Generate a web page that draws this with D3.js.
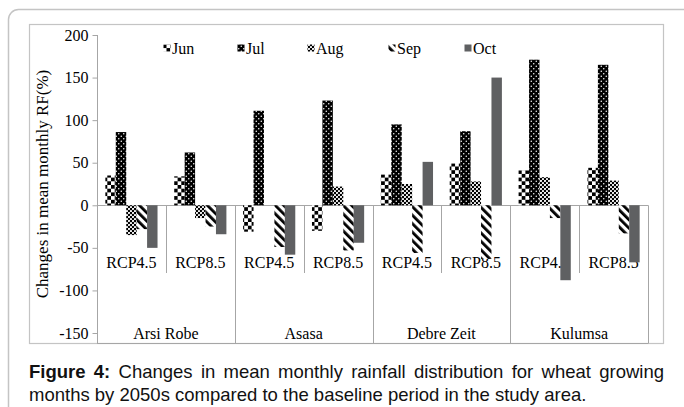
<!DOCTYPE html>
<html><head><meta charset="utf-8">
<script src="https://cdn.jsdelivr.net/npm/d3@7"></script>
<style>html,body{margin:0;padding:0;background:#fff;}svg{display:block;}</style>
</head><body>
<svg id="c" width="684" height="407"></svg>
<script>
const stations = ["Arsi Robe","Asasa","Debre Zeit","Kulumsa"];
const scenarios = ["RCP4.5","RCP8.5"];
const months = ["Jun","Jul","Aug","Sep","Oct"];
// values in order: Arsi Robe 4.5, 8.5, Asasa 4.5, 8.5, Debre Zeit 4.5, 8.5, Kulumsa 4.5, 8.5
const junVals = [35, 34, -31, -30, 36, 49, 41, 44];
const julVals = [86, 62, 111, 123, 95, 87, 171, 165];
const augVals = [-35, -15, 0, 22, 25, 28, 33, 29];
const sepVals = [-28, -25, -49, -53, -56, -63, -15, -33];
const octVals = [-50, -34, -58, -44, 51, 150, -88, -67];
const yTicks = [-150,-100,-50,0,50,100,150,200];
const captionBold = "Figure 4:";
const captionLine1 = " Changes in mean monthly rainfall distribution for wheat growing";
const captionLine2 = "months by 2050s compared to the baseline period in the study area.";

const series = {Jun: junVals, Jul: julVals, Aug: augVals, Sep: sepVals, Oct: octVals};
const subgroups = [];
stations.forEach(s => scenarios.forEach(r => subgroups.push(s + "|" + r)));

const svg = d3.select("#c");
const defs = svg.append("defs");
// Patterns
let p = defs.append("pattern").attr("id","pJun").attr("patternUnits","userSpaceOnUse").attr("width",7.4).attr("height",7.4);
p.append("rect").attr("width",7.4).attr("height",7.4).attr("fill","#fff");
p.append("rect").attr("width",3.7).attr("height",3.7).attr("fill","#000");
p.append("rect").attr("x",3.7).attr("y",3.7).attr("width",3.7).attr("height",3.7).attr("fill","#000");
p = defs.append("pattern").attr("id","pJul").attr("patternUnits","userSpaceOnUse").attr("width",5).attr("height",5);
p.append("rect").attr("width",5).attr("height",5).attr("fill","#000");
p.append("circle").attr("cx",1.25).attr("cy",1.25).attr("r",0.75).attr("fill","#fff");
p.append("circle").attr("cx",3.75).attr("cy",3.75).attr("r",0.75).attr("fill","#fff");
p = defs.append("pattern").attr("id","pAug").attr("patternUnits","userSpaceOnUse").attr("width",4).attr("height",4);
p.append("rect").attr("width",4).attr("height",4).attr("fill","#000");
p.append("circle").attr("cx",1).attr("cy",1).attr("r",1.1).attr("fill","#fff");
p.append("circle").attr("cx",3).attr("cy",3).attr("r",1.1).attr("fill","#fff");
p = defs.append("pattern").attr("id","pSep").attr("patternUnits","userSpaceOnUse").attr("width",6).attr("height",10).attr("patternTransform","rotate(-45)");
p.append("rect").attr("width",6).attr("height",10).attr("fill","#fff");
p.append("rect").attr("width",2.8).attr("height",10).attr("fill","#000");
const fills = {Jun:"url(#pJun)", Jul:"url(#pJul)", Aug:"url(#pAug)", Sep:"url(#pSep)", Oct:"#5f6062"};

// outer frames
svg.append("rect").attr("x",8.5).attr("y",9.5).attr("width",700).attr("height",430).attr("rx",10)
  .attr("fill","none").attr("stroke","#c4c4c4").attr("stroke-width",1.5);
svg.append("rect").attr("x",29.5).attr("y",24.5).attr("width",634).attr("height",319)
  .attr("fill","none").attr("stroke","#c4c4c4").attr("stroke-width",1.2);

const x0 = 97, x1 = 648, yBottom = 343.5;
const y = d3.scaleLinear().domain([-150,200]).range([333,35]);
const xs = d3.scaleBand().domain(subgroups).range([x0,x1]).padding(0);
const xg = d3.scaleBand().domain(stations).range([x0,x1]).padding(0);
const xm = d3.scaleBand().domain(months).range([0, xs.bandwidth()]).paddingInner(0).paddingOuter(0.8);

const axisCol = "#a6a6a6";
const serif = "'Liberation Serif','Times New Roman',serif";

// y axis
const yAxis = d3.axisLeft(y).tickValues(yTicks).tickSize(5).tickPadding(4).tickFormat(d => String(d));
const ga = svg.append("g").attr("transform",`translate(${x0+0.5},0)`).call(yAxis);
ga.select(".domain").remove();
ga.selectAll(".tick line").attr("stroke",axisCol);
ga.selectAll(".tick text").attr("font-family",serif).attr("font-size",16).attr("fill","#000");
svg.append("line").attr("x1",x0+0.5).attr("x2",x0+0.5).attr("y1",y(200)).attr("y2",yBottom).attr("stroke",axisCol);

// category lines
svg.append("line").attr("x1",x0).attr("x2",x1).attr("y1",Math.round(y(0))+0.5).attr("y2",Math.round(y(0))+0.5).attr("stroke",axisCol);
svg.append("line").attr("x1",x0).attr("x2",x1).attr("y1",yBottom).attr("y2",yBottom).attr("stroke",axisCol);
stations.forEach((s,i) => {
  const xe = Math.round(xg(s) + xg.bandwidth()) + 0.5;
  svg.append("line").attr("x1",xe).attr("x2",xe).attr("y1",y(0)).attr("y2",yBottom).attr("stroke",axisCol);
  const xm2 = Math.round(xs(s+"|RCP8.5")) + 0.5;
  svg.append("line").attr("x1",xm2).attr("x2",xm2).attr("y1",y(0)).attr("y2",273).attr("stroke",axisCol);
  svg.append("text").attr("x",xg(s)+xg.bandwidth()/2).attr("y",339).attr("text-anchor","middle")
    .attr("font-family",serif).attr("font-size",16).text(s);
});
subgroups.forEach(sg => {
  svg.append("text").attr("x",xs(sg)+xs.bandwidth()/2).attr("y",268).attr("text-anchor","middle")
    .attr("font-family",serif).attr("font-size",16).text(sg.split("|")[1]);
});

// bars
months.forEach(m => {
  svg.append("g").selectAll("rect").data(series[m]).join("rect")
    .attr("x",(d,i) => xs(subgroups[i]) + xm(m))
    .attr("width", xm.bandwidth())
    .attr("y", d => y(Math.max(0,d)))
    .attr("height", d => Math.abs(y(d) - y(0)))
    .attr("fill", fills[m]);
});

// legend
const legX = [167,241,311,392,468];
months.forEach((m,i) => {
  svg.append("rect").attr("x",legX[i]-3.5).attr("y",44.5).attr("width",7).attr("height",7).attr("fill",fills[m]);
  svg.append("text").attr("x",legX[i]+5).attr("y",54).attr("font-family",serif).attr("font-size",16).text(m);
});

// y title
svg.append("text").attr("transform","translate(48,184) rotate(-90)").attr("text-anchor","middle")
  .attr("font-family",serif).attr("font-size",17).text("Changes in mean monthly RF(%)");

// caption
const sans = "'Liberation Sans',Arial,sans-serif";
const capSize = 18.5;
const cap1 = svg.append("text").attr("x",29).attr("y",378).attr("font-family",sans).attr("font-size",capSize).attr("fill","#111");
cap1.append("tspan").attr("font-weight","bold").text(captionBold);
cap1.append("tspan").text(captionLine1);
// justify line 1 to the box width
const w = cap1.node().getComputedTextLength();
const spaces = (captionBold + captionLine1).split(" ").length - 1;
cap1.attr("word-spacing", Math.max(0,(664 - 29 - w) / spaces));
svg.append("text").attr("x",29).attr("y",401).attr("font-family",sans).attr("font-size",capSize).attr("fill","#111").text(captionLine2);
</script>
</body></html>
